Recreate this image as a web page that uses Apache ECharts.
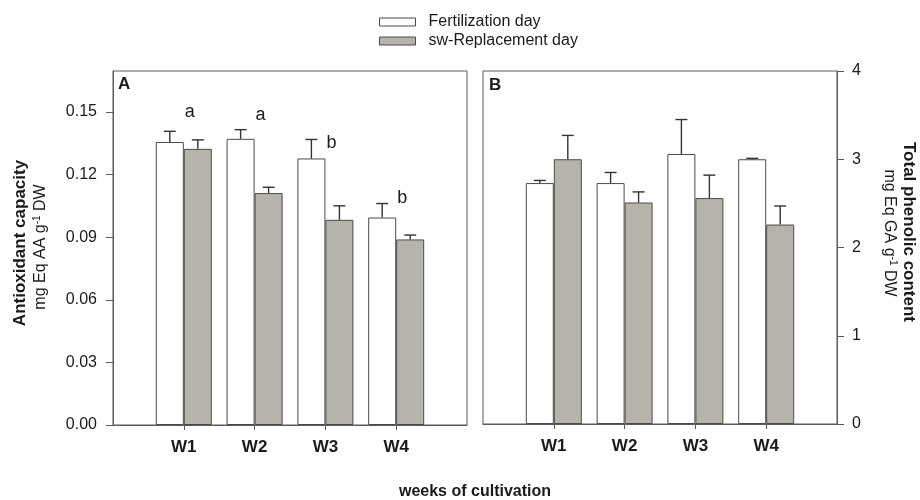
<!DOCTYPE html>
<html>
<head>
<meta charset="utf-8">
<script src="https://cdn.jsdelivr.net/npm/echarts@6/dist/echarts.min.js"></script>
<style>
html,body{margin:0;padding:0;background:#fff;}
#chart{width:920px;height:500px;}
</style>
</head>
<body>
<div id="chart"></div>
<script>
// ---- data ----
const weeks = ['W1', 'W2', 'W3', 'W4'];
const seriesNames = ['Fertilization day', 'sw-Replacement day'];

// Panel A: Antioxidant capacity (mg Eq AA g-1 DW)
const antioxFert = [0.1356, 0.1371, 0.1277, 0.0994];
const antioxFertErr = [0.0051, 0.0044, 0.0091, 0.0067];
const antioxSw = [0.1323, 0.1111, 0.0983, 0.0889];
const antioxSwErr = [0.0043, 0.0028, 0.0067, 0.0021];
const antioxLetters = ['a', 'a', 'b', 'b'];
const antioxLetterY = [0.1500, 0.1486, 0.1351, 0.1088];
const antioxTicks = [0, 0.03, 0.06, 0.09, 0.12, 0.15];

// Panel B: Total phenolic content (mg Eq GA g-1 DW)
const phenFert = [2.73, 2.73, 3.06, 3.00];
const phenFertErr = [0.03, 0.12, 0.39, 0.01];
const phenSw = [3.00, 2.51, 2.56, 2.26];
const phenSwErr = [0.27, 0.12, 0.26, 0.21];
const phenTicks = [0, 1, 2, 3, 4];

// ---- helpers ----
const FONT = 'Liberation Sans, Arial, Helvetica, sans-serif';
const BAR_W = 28;
const WHITE = '#ffffff';
const GRAY = '#b6b4aa';
const EDGE = '#4a4a4a';
const AXIS = '#5a5a5a';
const TXT = '#1a1a1a';

const cats = [''].concat(weeks, ['']);
const pad = arr => [null].concat(arr, [null]);
const errData = (vals, errs) => vals.map((v, i) => [i + 1, v, errs[i]]);

function errSeries(name, xi, yi, vals, errs, offset) {
  return {
    name: name, type: 'custom', xAxisIndex: xi, yAxisIndex: yi, z: 5,
    data: errData(vals, errs), silent: true,
    renderItem: function (params, api) {
      const p = api.coord([api.value(0), api.value(1)]);
      const q = api.coord([api.value(0), api.value(1) + api.value(2)]);
      const x = p[0] + offset;
      const st = { stroke: '#333', lineWidth: 1.4 };
      return { type: 'group', children: [
        { type: 'line', shape: { x1: x, y1: p[1], x2: x, y2: q[1] }, style: st },
        { type: 'line', shape: { x1: x - 6, y1: q[1], x2: x + 6, y2: q[1] }, style: st }
      ]};
    }
  };
}

function barSeries(name, xi, yi, vals, color) {
  return {
    name: name, type: 'bar', xAxisIndex: xi, yAxisIndex: yi,
    data: pad(vals), barWidth: BAR_W, barGap: '0%',
    itemStyle: { color: color, borderColor: EDGE, borderWidth: 1 },
    emphasis: { disabled: true }, animation: false
  };
}

function xAxisCfg(gi) {
  return {
    type: 'category', gridIndex: gi, data: cats, boundaryGap: false,
    axisLine: { lineStyle: { color: AXIS, width: 1 } },
    axisTick: { show: true, length: 5, lineStyle: { color: AXIS },
      interval: function (i) { return i >= 1 && i <= weeks.length; } },
    axisLabel: { interval: 0, margin: 14, fontFamily: FONT, fontSize: 17, fontWeight: 'bold', color: TXT },
    splitLine: { show: false }
  };
}

const chart = echarts.init(document.getElementById('chart'), null, { renderer: 'canvas' });

const option = {
  animation: false,
  backgroundColor: '#fff',
  textStyle: { fontFamily: FONT },
  legend: {
    orient: 'vertical', left: 379, top: 14, padding: 0, itemWidth: 36, itemHeight: 8, itemGap: 3,
    selectedMode: false,
    textStyle: { fontFamily: FONT, fontSize: 16, color: TXT, padding: [0, 0, 0, 8] },
    data: [
      { name: seriesNames[0], icon: 'rect', itemStyle: { color: WHITE, borderColor: EDGE, borderWidth: 1 } },
      { name: seriesNames[1], icon: 'rect', itemStyle: { color: GRAY, borderColor: EDGE, borderWidth: 1 } }
    ]
  },
  grid: [
    { left: 113, top: 71, width: 354, height: 354, show: true, borderColor: AXIS, borderWidth: 1, backgroundColor: 'transparent' },
    { left: 483, top: 71, width: 354, height: 353, show: true, borderColor: AXIS, borderWidth: 1, backgroundColor: 'transparent' }
  ],
  xAxis: [xAxisCfg(0), xAxisCfg(1)],
  yAxis: [
    {
      type: 'value', gridIndex: 0, min: 0, max: 0.1696, position: 'left',
      axisLine: { show: true, lineStyle: { color: AXIS } },
      axisTick: { show: true, length: 7, lineStyle: { color: AXIS }, customValues: antioxTicks },
      axisLabel: { margin: 16, fontFamily: FONT, fontSize: 16, color: TXT, customValues: antioxTicks,
        formatter: v => v.toFixed(2) },
      splitLine: { show: false }
    },
    {
      type: 'value', gridIndex: 1, min: 0, max: 4, interval: 1, position: 'right',
      axisLine: { show: true, lineStyle: { color: AXIS } },
      axisTick: { show: true, length: 7, lineStyle: { color: AXIS } },
      axisLabel: { margin: 15, fontFamily: FONT, fontSize: 16, color: TXT },
      splitLine: { show: false }
    }
  ],
  series: [
    barSeries(seriesNames[0], 0, 0, antioxFert, WHITE),
    barSeries(seriesNames[1], 0, 0, antioxSw, GRAY),
    barSeries(seriesNames[0], 1, 1, phenFert, WHITE),
    barSeries(seriesNames[1], 1, 1, phenSw, GRAY),
    errSeries('errA1', 0, 0, antioxFert, antioxFertErr, -BAR_W / 2),
    errSeries('errA2', 0, 0, antioxSw, antioxSwErr, BAR_W / 2),
    errSeries('errB1', 1, 1, phenFert, phenFertErr, -BAR_W / 2),
    errSeries('errB2', 1, 1, phenSw, phenSwErr, BAR_W / 2),
    {
      name: 'letters', type: 'custom', xAxisIndex: 0, yAxisIndex: 0, z: 6, silent: true,
      data: antioxLetters.map((l, i) => [i + 1, antioxLetterY[i], l]),
      renderItem: function (params, api) {
        const p = api.coord([api.value(0), api.value(1)]);
        return { type: 'text', x: p[0] + 6, y: p[1],
          style: { text: antioxLetters[params.dataIndex], fontFamily: FONT, fontSize: 18,
            fill: TXT, align: 'center', verticalAlign: 'middle' } };
      }
    }
  ],
  graphic: [
    { type: 'text', left: 118, top: 76, style: { text: 'A', fontFamily: FONT, fontSize: 17, fontWeight: 'bold', fill: TXT } },
    { type: 'text', left: 489, top: 77, style: { text: 'B', fontFamily: FONT, fontSize: 17, fontWeight: 'bold', fill: TXT } },
    { type: 'text', x: 20, y: 243, rotation: Math.PI / 2,
      style: { text: 'Antioxidant capacity', fontFamily: FONT, fontSize: 17, fontWeight: 'bold', fill: TXT, align: 'center', verticalAlign: 'middle' } },
    { type: 'text', x: 41, y: 247, rotation: Math.PI / 2,
      style: { text: '{n|mg Eq AA g}{s|-1}{n| DW}', fill: TXT, align: 'center', verticalAlign: 'middle',
        rich: { n: { fontFamily: FONT, fontSize: 16, lineHeight: 18, fill: TXT },
                s: { fontFamily: FONT, fontSize: 10, lineHeight: 10, verticalAlign: 'top', fill: TXT } } } },
    { type: 'text', x: 909, y: 232, rotation: -Math.PI / 2,
      style: { text: 'Total phenolic content', fontFamily: FONT, fontSize: 17, fontWeight: 'bold', fill: TXT, align: 'center', verticalAlign: 'middle' } },
    { type: 'text', x: 889, y: 233, rotation: -Math.PI / 2,
      style: { text: '{n|mg Eq GA g}{s|-1}{n| DW}', fill: TXT, align: 'center', verticalAlign: 'middle',
        rich: { n: { fontFamily: FONT, fontSize: 16, lineHeight: 18, fill: TXT },
                s: { fontFamily: FONT, fontSize: 10, lineHeight: 10, verticalAlign: 'top', fill: TXT } } } },
    { type: 'text', x: 475, y: 492,
      style: { text: 'weeks of cultivation', fontFamily: FONT, fontSize: 16, fontWeight: 'bold', fill: TXT, align: 'center', verticalAlign: 'middle' } }
  ]
};
chart.setOption(option);
</script>
</body>
</html>
